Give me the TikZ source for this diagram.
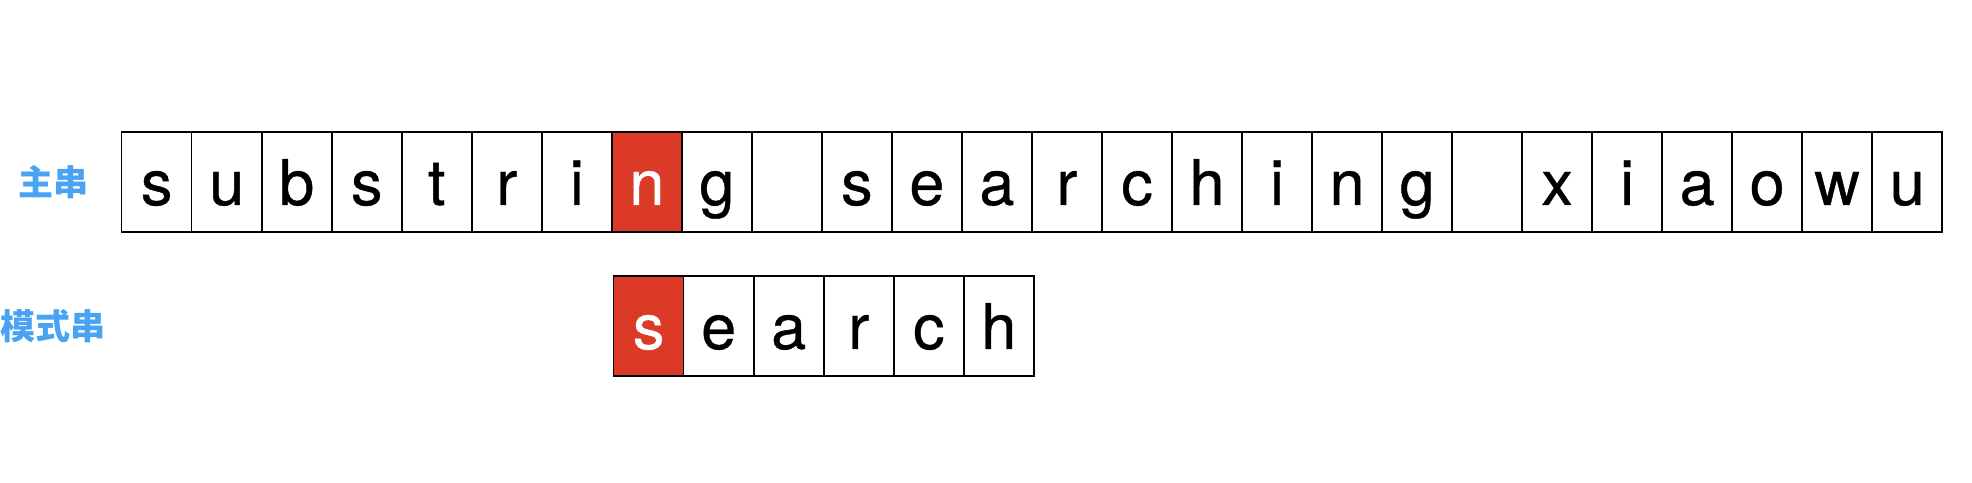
\documentclass[tikz,border=0pt]{standalone}
\usepackage{fontspec}
\setmainfont{TeX Gyre Heros}
\newfontfamily\cellfont{TeX Gyre Heros}[FakeBold=0.6]
\newfontfamily\cjk{Noto Sans CJK SC}
\definecolor{hit}{RGB}{219,58,38}
\definecolor{lbl}{RGB}{74,163,242}
\begin{document}
\begin{tikzpicture}[x=1pt,y=1pt,
  cell/.style={draw=black, line width=1.5pt, minimum width=70pt, minimum height=100pt,
    inner sep=0pt, text height=46pt, text depth=0pt, font=\cellfont\fontsize{63}{63}\selectfont},
  hitcell/.style={cell, fill=hit, text=white},
  lab/.style={text=lbl, inner sep=0pt, font=\cjk\bfseries\fontsize{35}{35}\selectfont}]
\useasboundingbox (0,0) rectangle (1972,482);
\def\mx{121.7}
\def\px{613.7}
\def\cw{70.02}
\foreach \c [count=\i from 0] in {s,u,b,s,t,r,i,n,g,{},s,e,a,r,c,h,i,n,g,{},x,i,a,o,w,u} {
  \ifnum\i=7 \def\st{hitcell}\else\def\st{cell}\fi
  \node[\st] (m\i) at ({\mx+\cw*\i+\cw/2},300) {\c};
}
\foreach \c [count=\i from 0] in {s,e,a,r,c,h} {
  \ifnum\i=0 \def\st{hitcell}\else\def\st{cell}\fi
  \node[\st] (p\i) at ({\px+\cw*\i+\cw/2},156) {\c};
}
\node[lab] (lmain) at (53,300) {主串};
\node[lab] (lpat) at (53,156) {模式串};
\end{tikzpicture}
\end{document}
